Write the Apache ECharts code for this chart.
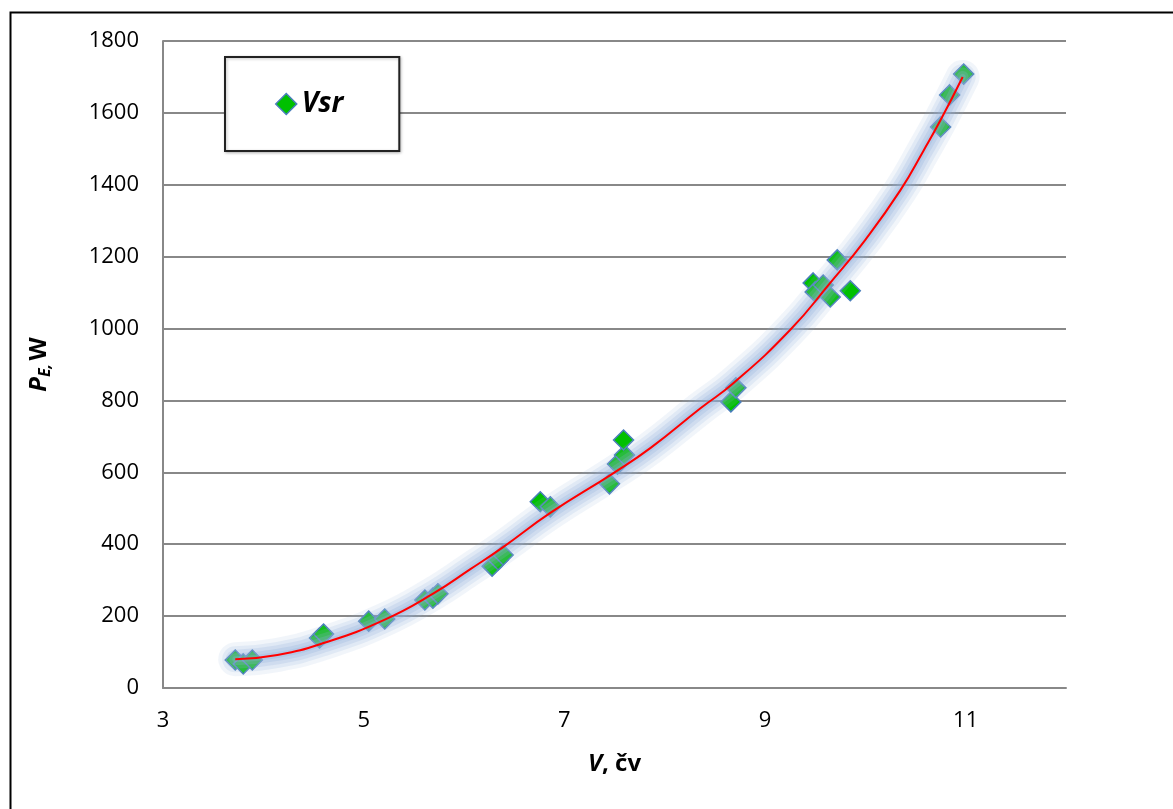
<!DOCTYPE html>
<html>
<head>
<meta charset="utf-8">
<script src="https://cdn.jsdelivr.net/npm/echarts@6/dist/echarts.min.js"></script>
<style>
html,body{margin:0;padding:0;background:#fff;}
#main{width:1173px;height:809px;}
</style>
</head>
<body>
<div id="main"></div>
<script>
// Measured points (V, P_E)
var vValues = [3.72,3.80,3.89,4.56,4.60,5.05,5.21,5.61,5.69,5.74,6.28,6.34,6.39,6.76,6.86,7.45,7.53,7.60,7.59,8.66,8.71,9.48,9.50,9.58,9.65,9.72,9.85,10.75,10.84,10.98];
var pValues = [78,67,78,139,150,186,192,245,250,262,339,356,370,518,504,568,623,648,690,796,835,1127,1102,1121,1088,1191,1105,1561,1650,1708];
// Trend line
var trendV = [3.72,4.14,4.6,5.2,5.7,6.06,6.39,6.86,7.49,7.86,8.36,8.69,9.25,9.65,10.0,10.35,10.58,10.75,10.97];
var trendP = [80,92,125,189,264,330,392,487,598,668,779,849,996,1127,1247,1385,1495,1580,1700];
var yTicks = [0,200,400,600,800,1000,1200,1400,1600,1800];
var xTicks = [3,5,7,9,11];
var seriesName = 'Vsr';

var pts = vValues.map(function(v,i){return [v,pValues[i]];});
var trend = trendV.map(function(v,i){return [v,trendP[i]];});

var FONT = 'Open Sans';
function glow(width, alpha, z){
  return {
    type:'line', data:trend, smooth:true, symbol:'none', z:z, silent:true,
    lineStyle:{color:'rgba(145,175,218,'+alpha+')', width:width, cap:'round', join:'round'}
  };
}
var chart = echarts.init(document.getElementById('main'), null, {renderer:'canvas'});
chart.setOption({
  backgroundColor:'#fff',
  animation:false,
  graphic:[{
    type:'rect', left:8, top:10, z:-1,
    shape:{width:1200, height:900},
    style:{fill:'none', stroke:'#000', lineWidth:2}
  }],
  grid:{left:163, right:107, top:41, bottom:121},
  legend:{
    data:[{name:seriesName, icon:'diamond',
      itemStyle:{color:'#00c000', borderColor:'#4a7ebb', borderWidth:1.5, opacity:1}}],
    left:225, top:57,
    padding:[33,56,33,50],
    borderColor:'#222', borderWidth:2,
    backgroundColor:'#fff',
    itemWidth:21, itemHeight:21, itemGap:8,
    textStyle:{fontFamily:FONT, fontSize:28, fontWeight:'bold', fontStyle:'italic', color:'#000'},
    shadowColor:'rgba(0,0,0,0.25)', shadowBlur:3, shadowOffsetX:1, shadowOffsetY:1
  },
  xAxis:{
    type:'value', min:3, max:12, interval:2,
    name:'{i|V}{b|, čv}', nameLocation:'middle', nameGap:64,
    nameTextStyle:{rich:{
      i:{fontFamily:FONT, fontSize:24, fontWeight:'bold', fontStyle:'italic', color:'#000'},
      b:{fontFamily:FONT, fontSize:24, fontWeight:'bold', color:'#000'}
    }},
    axisLine:{show:true, onZero:false, lineStyle:{color:'#888', width:2}},
    axisTick:{show:false},
    splitLine:{show:false},
    axisLabel:{fontFamily:FONT, fontSize:22, color:'#000', margin:22, showMaxLabel:false,
      formatter:function(v){return xTicks.indexOf(v)>=0 ? String(v) : '';}}
  },
  yAxis:{
    type:'value', min:0, max:1800, interval:200,
    name:'{i|P}{s|E,} {b|W}', nameLocation:'middle', nameGap:110, nameRotate:90,
    nameTextStyle:{rich:{
      i:{fontFamily:FONT, fontSize:24, fontWeight:'bold', fontStyle:'italic', color:'#000'},
      s:{fontFamily:FONT, fontSize:16, fontWeight:'bold', fontStyle:'italic', color:'#000', verticalAlign:'bottom', padding:[12,0,0,0]},
      b:{fontFamily:FONT, fontSize:24, fontWeight:'bold', color:'#000'}
    }},
    axisLine:{show:true, lineStyle:{color:'#888', width:2}},
    axisTick:{show:false},
    splitLine:{show:true, lineStyle:{color:'#888', width:2}},
    axisLabel:{fontFamily:FONT, fontSize:22, color:'#000', margin:24,
      formatter:function(v){return yTicks.indexOf(v)>=0 ? String(v) : '';}}
  },
  series:[
    {
      name:seriesName, type:'scatter', data:pts, z:2,
      symbol:'diamond', symbolSize:20,
      itemStyle:{color:'#00c000', borderColor:'#4a7ebb', borderWidth:1.5, opacity:1}
    },
    glow(34, 0.13, 3),
    glow(26, 0.17, 3),
    glow(19, 0.21, 3),
    glow(12, 0.25, 3),
    glow(6, 0.28, 3),
    {
      name:'trend', type:'line', data:trend, smooth:true, symbol:'none', z:4,
      silent:true,
      lineStyle:{color:'#ff0000', width:2}
    }
  ]
});
</script>
</body>
</html>
